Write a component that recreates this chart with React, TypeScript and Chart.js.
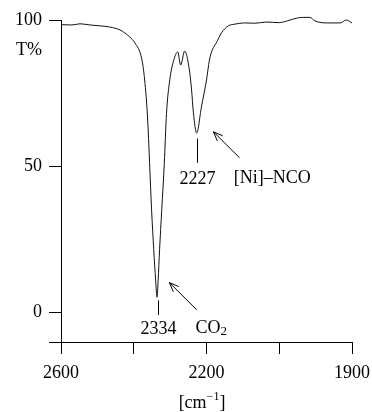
import React, { useEffect, useRef } from 'react';
import { Chart, registerables } from 'chart.js';

Chart.register(...registerables);

// IR spectrum, wavenumber (cm-1) vs transmittance (%)
const wavenumbers = [
  2600, 2570, 2548, 2520, 2493, 2466, 2438, 2411, 2397, 2378, 2370, 2362, 2351, 2345, 2340,
  2336, 2333, 2329, 2323, 2316, 2310, 2301, 2290, 2279, 2271, 2260, 2247, 2241, 2236, 2227,
  2214, 2200, 2192, 2184, 2173, 2159, 2140, 2121, 2096, 2066, 2036, 2000, 1989, 1975, 1967,
  1958, 1951, 1934, 1916, 1908, 1900,
];
const transmittance = [
  98.4, 98.3, 98.7, 98.3, 98.0, 97.6, 96.6, 94.2, 92.2, 86.7, 79.5, 66.5, 35.2, 21.5, 11.5,
  5.3, 11.0, 21.5, 35.2, 51.0, 68.0, 79.5, 86.3, 89.1, 84.6, 89.4, 82.9, 76.1, 68.3, 61.4,
  70.3, 79.5, 86.3, 89.8, 92.2, 95.6, 98.0, 98.6, 99.0, 98.9, 99.3, 99.1, 99.7, 100.7, 100.9,
  100.9, 99.7, 99.0, 99.0, 100.0, 99.0,
];

const xTickValues = [2600, 2400, 2200, 2000, 1900];
const xTickLabels = ['2600', '', '2200', '', '1900'];
const yTickValues = [-10, 0, 50, 100];
const yTickLabels = ['', '0', '50', '100'];

const peakPositions = [2334, 2227];
const peakLabels = ['2334', '2227'];

// piecewise wavenumber axis (scale doubles below 2000 cm-1)
const toU = (wn: number) => (wn >= 2000 ? 2600 - wn : 600 + 2 * (2000 - wn));

const FONT = '"Liberation Serif", "DejaVu Serif", serif';

function arrow(ctx: CanvasRenderingContext2D, x1: number, y1: number, x2: number, y2: number) {
  ctx.beginPath();
  ctx.moveTo(x1, y1);
  ctx.lineTo(x2, y2);
  const a = Math.atan2(y2 - y1, x2 - x1);
  const L = 10;
  const s = 0.38;
  ctx.moveTo(x2, y2);
  ctx.lineTo(x2 - L * Math.cos(a - s), y2 - L * Math.sin(a - s));
  ctx.moveTo(x2, y2);
  ctx.lineTo(x2 - L * Math.cos(a + s), y2 - L * Math.sin(a + s));
  ctx.stroke();
}

const annotationPlugin = {
  id: 'irAnnotations',
  afterDraw(chart: any) {
    const ctx: CanvasRenderingContext2D = chart.ctx;
    const xs = chart.scales.x;
    const ys = chart.scales.y;
    const px = (wn: number) => xs.getPixelForValue(toU(wn));
    const py = (t: number) => ys.getPixelForValue(t);
    ctx.save();
    ctx.strokeStyle = '#000';
    ctx.fillStyle = '#000';
    ctx.lineWidth = 1;
    ctx.font = `18px ${FONT}`;
    ctx.textBaseline = 'middle';

    // peak 2334
    {
      const x = Math.round(px(peakPositions[0])) + 0.5;
      ctx.beginPath();
      ctx.moveTo(x, py(4.2));
      ctx.lineTo(x, py(-0.8));
      ctx.stroke();
      ctx.textAlign = 'center';
      ctx.fillText(peakLabels[0], x, py(-5.8));
    }
    // peak 2227
    {
      const x = Math.round(px(peakPositions[1])) + 0.5;
      ctx.beginPath();
      ctx.moveTo(x, py(59.5));
      ctx.lineTo(x, py(51.2));
      ctx.stroke();
      ctx.textAlign = 'center';
      ctx.fillText(peakLabels[1], x, py(45.6));
    }
    // CO2 label + arrow
    {
      ctx.textAlign = 'left';
      const x = px(2230);
      const y = py(-5.2);
      ctx.fillText('CO', x, y);
      const w = ctx.measureText('CO').width;
      ctx.font = `13px ${FONT}`;
      ctx.fillText('2', x + w, y + 4);
      ctx.font = `18px ${FONT}`;
      arrow(ctx, px(2227), py(1.0), px(2302), py(10.3));
    }
    // [Ni]-NCO label + arrow
    {
      ctx.textAlign = 'left';
      ctx.fillText('[Ni]\u2013NCO', px(2125), py(46.0));
      arrow(ctx, px(2109), py(52.9), px(2181), py(61.8));
    }
    // T% label
    ctx.textAlign = 'right';
    ctx.fillText('T%', 42, py(89.6));

    // x-axis unit
    {
      const cx = 202;
      const cy = 403;
      ctx.font = `18px ${FONT}`;
      const a = '[cm';
      const b = '\u22121';
      const c = ']';
      const wa = ctx.measureText(a).width;
      const wc = ctx.measureText(c).width;
      ctx.font = `12px ${FONT}`;
      const wb = ctx.measureText(b).width;
      const total = wa + wb + wc;
      let x = cx - total / 2;
      ctx.textAlign = 'left';
      ctx.font = `18px ${FONT}`;
      ctx.fillText(a, x, cy);
      x += wa;
      ctx.font = `12px ${FONT}`;
      ctx.fillText(b, x, cy - 6);
      x += wb;
      ctx.font = `18px ${FONT}`;
      ctx.fillText(c, x, cy);
    }
    ctx.restore();
  },
};

export default function App() {
  const ref = useRef<HTMLCanvasElement>(null);
  useEffect(() => {
    if (!ref.current) return;
    const points = wavenumbers.map((wn, i) => ({ x: toU(wn), y: transmittance[i] }));
    const chart = new Chart(ref.current, {
      type: 'line',
      data: {
        datasets: [
          {
            data: points,
            borderColor: '#111',
            borderWidth: 1,
            pointRadius: 0,
            fill: false,
            cubicInterpolationMode: 'monotone',
            clip: false as any,
          },
        ],
      },
      options: {
        responsive: false,
        animation: false,
        events: [],
        layout: { padding: { left: 0, right: 20, top: 20, bottom: 0 } },
        plugins: { legend: { display: false }, tooltip: { enabled: false } },
        scales: {
          x: {
            type: 'linear',
            min: 0,
            max: 800,
            afterBuildTicks: (s: any) => {
              s.ticks = xTickValues.map((v) => ({ value: toU(v) }));
            },
            afterFit: (s: any) => {
              s.height = 70;
              s.paddingLeft = 0;
              s.paddingRight = 0;
            },
            ticks: {
              autoSkip: false,
              maxRotation: 0,
              padding: 8,
              color: '#000',
              font: { family: FONT, size: 18 },
              callback: (_v: any, i: number) => xTickLabels[i],
            },
            grid: { drawOnChartArea: false, drawTicks: true, tickLength: 12, color: '#000' },
            border: { display: true, color: '#000', width: 1 },
          },
          y: {
            type: 'linear',
            min: -10,
            max: 100,
            afterBuildTicks: (s: any) => {
              s.ticks = yTickValues.map((v) => ({ value: v }));
            },
            afterFit: (s: any) => {
              s.width = 61;
              s.paddingTop = 0;
              s.paddingBottom = 0;
            },
            ticks: {
              autoSkip: false,
              padding: 7,
              color: '#000',
              font: { family: FONT, size: 18 },
              callback: (_v: any, i: number) => yTickLabels[i],
            },
            grid: { drawOnChartArea: false, drawTicks: true, tickLength: 12, color: '#000' },
            border: { display: true, color: '#000', width: 1 },
          },
        },
      },
      plugins: [annotationPlugin],
    });
    return () => chart.destroy();
  }, []);
  return (
    <div style={{ position: 'absolute', left: 0, top: 0, width: 372, height: 412, background: '#fff' }}>
      <canvas ref={ref} width={372} height={412} />
    </div>
  );
}
